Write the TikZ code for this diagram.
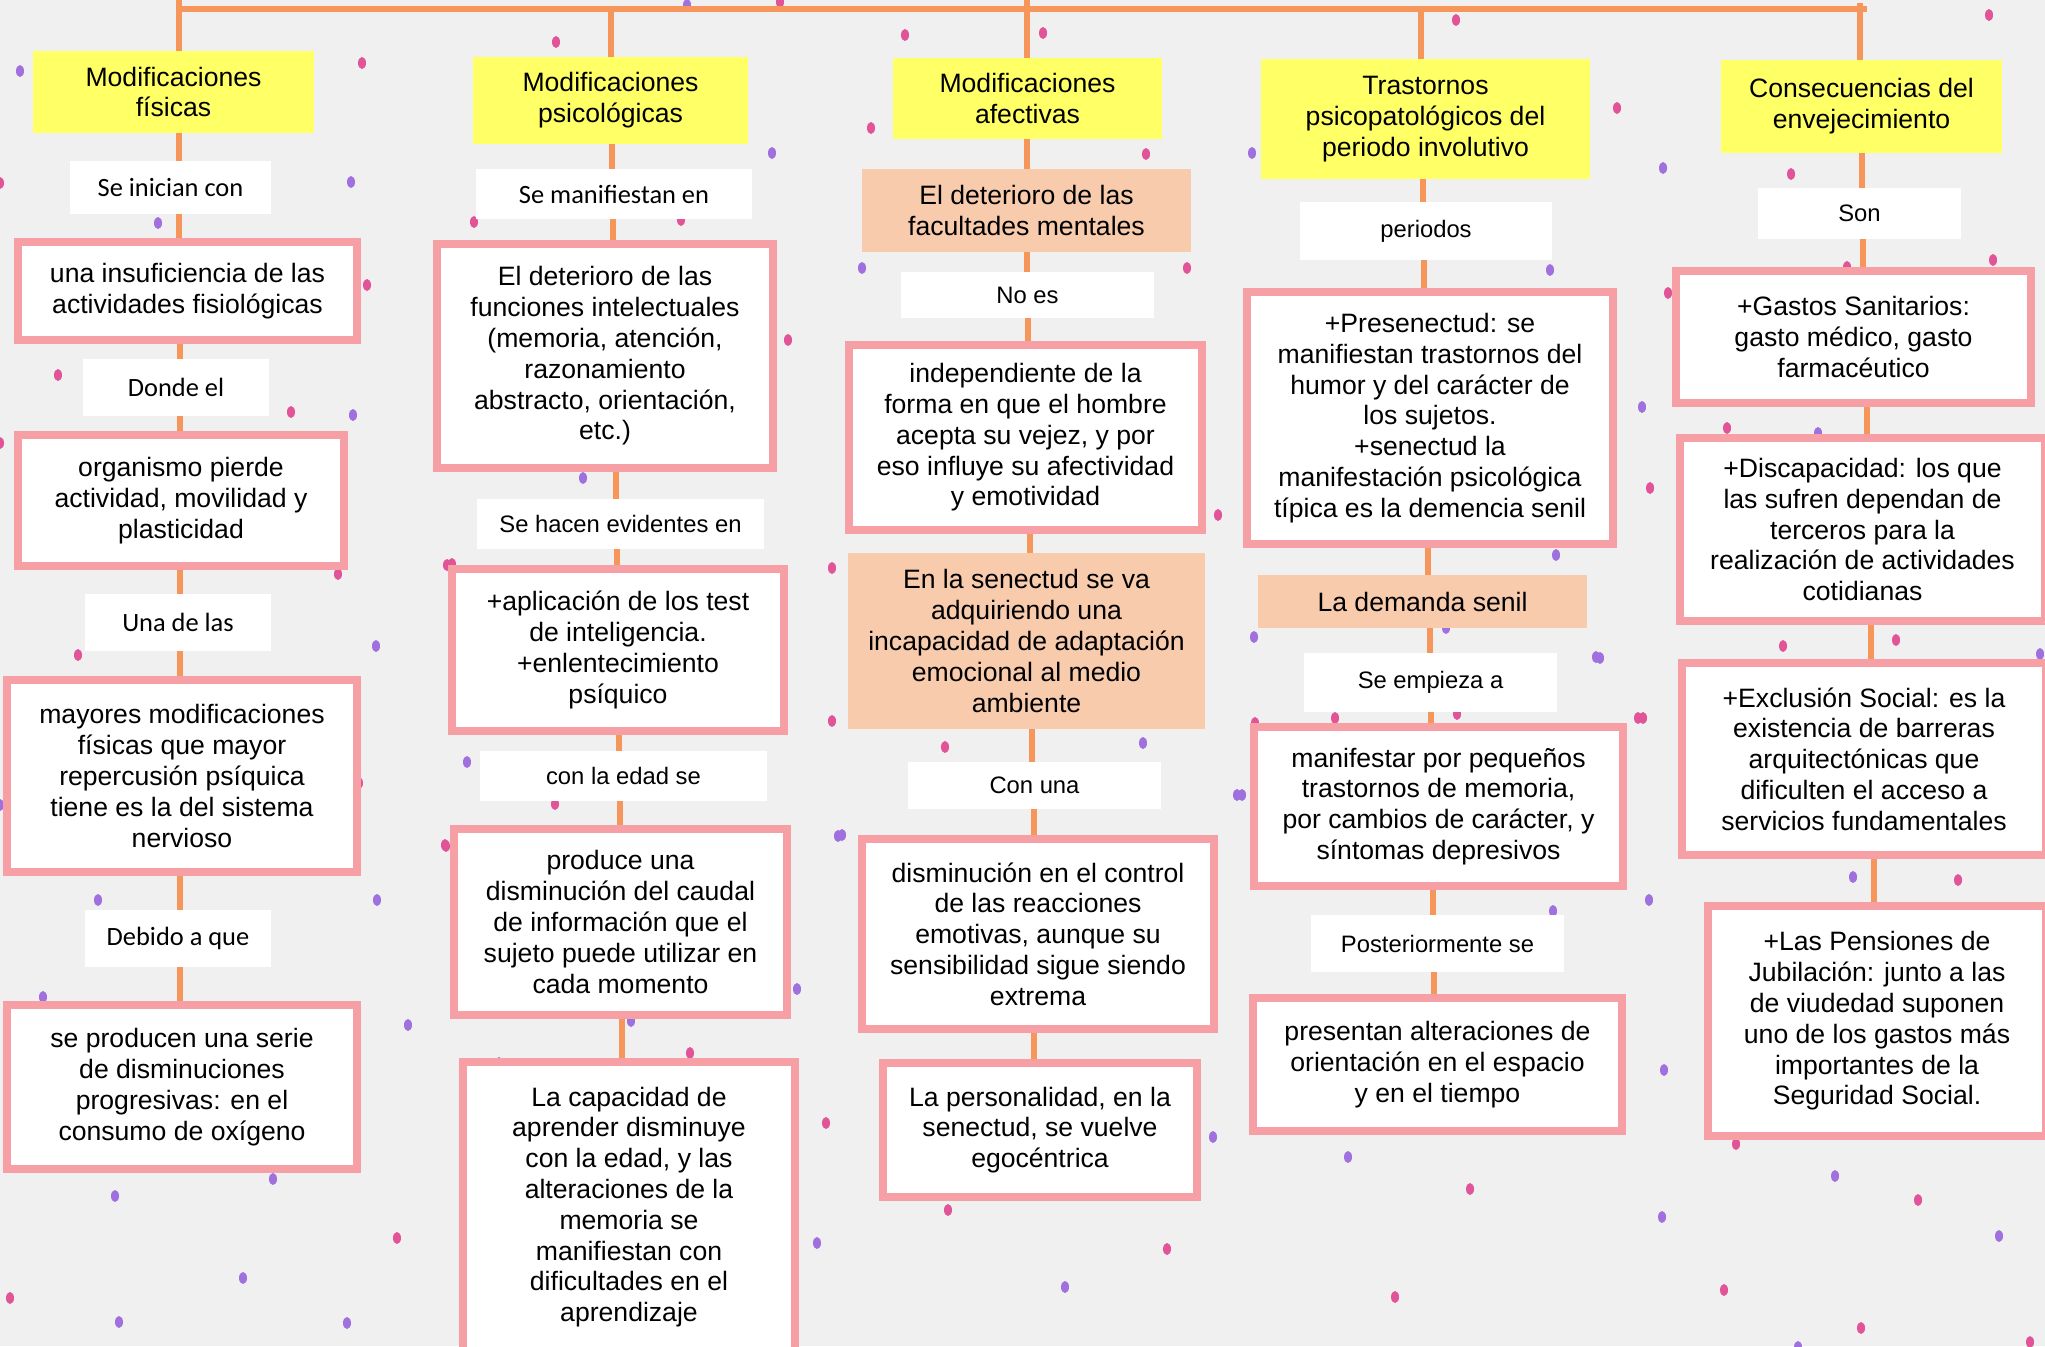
\documentclass[tikz,border=0pt]{standalone}
\usepackage{fontspec}
\setmainfont{Liberation Sans}
\newfontfamily\calfont{Carlito}
\usetikzlibrary{backgrounds}
\definecolor{bgc}{RGB}{240,240,240}
\definecolor{orng}{RGB}{247,150,90}
\definecolor{pinkb}{RGB}{246,160,166}
\definecolor{yel}{RGB}{255,255,102}
\definecolor{peach}{RGB}{248,203,173}
\definecolor{dpink}{RGB}{226,84,152}
\definecolor{dpurp}{RGB}{160,112,222}
\newcommand\mainsz{\fontsize{13.3}{15.4}\selectfont}
\newcommand\labsz{\fontsize{11.9}{14}\selectfont}
\newcommand\calsz{\calfont\fontsize{13.2}{15}\selectfont}
\newcommand\mkbox[7]{%
  \pgfmathsetmacro\bxc{(#3+#5)/2}%
  \pgfmathsetmacro\byc{(#4+#6)/2}%
  \pgfmathsetmacro\bww{(#5-#3)/2}%
  \pgfmathsetmacro\bhh{(#6-#4)/2}%
  \node[#1, minimum width=\bww pt, minimum height=\bhh pt] (#2) at (\bxc,\byc) {#7};}
\newcommand\pbx[6]{\mkbox{pbox}{#1}{#2+4}{#3+4}{#4-4}{#5-4}{#6}}
\newcommand\lnk[3]{\coordinate (lk) at (#3,0); \draw[conn] (#1.south -| lk) -- (#2.north -| lk);}
\newcommand\stub[3]{\coordinate (lk) at (#2,#3); \draw[conn] (lk) -- (#1.north -| lk);}
\tikzset{
  pbox/.style={draw=pinkb, line width=4pt, fill=white, align=center, inner sep=0pt, font=\mainsz},
  ybox/.style={fill=yel, align=center, inner sep=0pt, font=\mainsz},
  obox/.style={fill=peach, align=center, inner sep=0pt, font=\mainsz},
  lbox/.style={fill=white, align=center, inner sep=0pt, font=\labsz},
  cbox/.style={fill=white, align=center, inner sep=0pt, font=\calsz},
  conn/.style={draw=orng, line width=2.75pt},
  topbar/.style={draw=orng, line width=3pt},
  pdot/.style={fill=dpink},
  udot/.style={fill=dpurp}
}
\begin{document}
\begin{tikzpicture}[x=0.5pt,y=-0.5pt]
\useasboundingbox (0,0) rectangle (2045,1346);
% column 1
\mkbox{ybox}{t1}{33}{51}{314}{133}{Modificaciones\\físicas}
\mkbox{cbox}{l1}{70}{161}{271}{214}{Se inician con}
\pbx{b1}{18}{242}{357}{340}{una insuficiencia de las\\actividades fisiológicas}
\mkbox{cbox}{l2}{83}{359}{269}{416}{Donde el}
\pbx{b2}{18}{435}{344}{566}{organismo pierde\\actividad, movilidad y\\plasticidad}
\mkbox{cbox}{l3}{85}{594}{271}{651}{Una de las}
\pbx{b3}{7}{680}{357}{872}{mayores modificaciones\\físicas que mayor\\repercusión psíquica\\tiene es la del sistema\\nervioso}
\mkbox{cbox}{l4}{85}{910}{271}{967}{Debido a que}
\pbx{b4}{7}{1005}{357}{1169}{se producen una serie\\de disminuciones\\progresivas: en el\\consumo de oxígeno}
% column 2
\mkbox{ybox}{t2}{473}{57}{748}{144}{Modificaciones\\psicológicas}
\mkbox{cbox}{l5}{476}{169}{752}{219}{Se manifiestan en}
\pbx{b5}{437}{244}{773}{468}{El deterioro de las\\funciones intelectuales\\(memoria, atención,\\razonamiento\\abstracto, orientación,\\etc.)}
\mkbox{lbox}{l6}{477}{499}{764}{549}{Se hacen evidentes en}
\pbx{b6}{452}{569}{784}{731}{+aplicación de los test\\de inteligencia.\\+enlentecimiento\\psíquico}
\mkbox{lbox}{l7}{480}{751}{767}{801}{con la edad se}
\pbx{b7}{454}{829}{787}{1015}{produce una\\disminución del caudal\\de información que el\\sujeto puede utilizar en\\cada momento}
\pbx{b8}{463}{1062}{795}{1352}{La capacidad de\\aprender disminuye\\con la edad, y las\\alteraciones de la\\memoria se\\manifiestan con\\dificultades en el\\aprendizaje}
% column 3
\mkbox{ybox}{t3}{893}{58}{1162}{139}{Modificaciones\\afectivas}
\mkbox{obox}{o1}{862}{169}{1191}{252}{El deterioro de las\\facultades mentales}
\mkbox{lbox}{l8}{901}{272}{1154}{318}{No es}
\pbx{b9}{849}{345}{1202}{530}{independiente de la\\forma en que el hombre\\acepta su vejez, y por\\eso influye su afectividad\\y emotividad}
\mkbox{obox}{o2}{848}{553}{1205}{729}{En la senectud se va\\adquiriendo una\\incapacidad de adaptación\\emocional al medio\\ambiente}
\mkbox{lbox}{l9}{908}{762}{1161}{809}{Con una}
\pbx{b10}{862}{839}{1214}{1029}{disminución en el control\\de las reacciones\\emotivas, aunque su\\sensibilidad sigue siendo\\extrema}
\pbx{b11}{883}{1063}{1197}{1197}{La personalidad, en la\\senectud, se vuelve\\egocéntrica}
% column 4
\mkbox{ybox}{t4}{1261}{59}{1590}{179}{Trastornos\\psicopatológicos del\\periodo involutivo}
\mkbox{lbox}{l10}{1300}{202}{1552}{260}{periodos}
\pbx{b12}{1247}{292}{1613}{544}{+Presenectud: se\\manifiestan trastornos del\\humor y del carácter de\\los sujetos.\\+senectud la\\manifestación psicológica\\típica es la demencia senil}
\mkbox{obox}{o3}{1258}{575}{1587}{628}{La demanda senil}
\mkbox{lbox}{l11}{1304}{653}{1557}{712}{Se empieza a}
\pbx{b13}{1254}{727}{1623}{886}{manifestar por pequeños\\trastornos de memoria,\\por cambios de carácter, y\\síntomas depresivos}
\mkbox{lbox}{l12}{1311}{915}{1564}{972}{Posteriormente se}
\pbx{b14}{1253}{998}{1622}{1131}{presentan alteraciones de\\orientación en el espacio\\y en el tiempo}
% column 5
\mkbox{ybox}{t5}{1721}{60}{2002}{153}{Consecuencias del\\envejecimiento}
\mkbox{lbox}{l13}{1758}{188}{1961}{239}{Son}
\pbx{b15}{1676}{271}{2031}{403}{+Gastos Sanitarios:\\gasto médico, gasto\\farmacéutico}
\pbx{b16}{1680}{438}{2045}{621}{+Discapacidad: los que\\las sufren dependan de\\terceros para la\\realización de actividades\\cotidianas}
\pbx{b17}{1682}{663}{2046}{855}{+Exclusión Social: es la\\existencia de barreras\\arquitectónicas que\\dificulten el acceso a\\servicios fundamentales}
\pbx{b18}{1708}{906}{2046}{1136}{+Las Pensiones de\\Jubilación: junto a las\\de viudedad suponen\\uno de los gastos más\\importantes de la\\Seguridad Social.}
\begin{pgfonlayer}{background}
\fill[bgc] (0,0) rectangle (2045,1346);
\foreach \px/\py in {362/63,556/42,0/183,474/222,681/220,367/285,58/375,291/412,0/443,338/574,447/565,78/655,359/783,445/845,397/1238,10/1298,452/564,832/568,832/721,555/804,446/846,690/1053,826/1123,1146/154,1187/268,1218/515,945/747,1335/718,1457/714,1255/723,1638/718,1989/15,1617/108,1791/174,1847/267,1993/260,1668/293,1727/428,1650/488,1783/646,1896/640,1643/718,1958/880,1736/1144,1918/1200,1724/1290,1861/1328,2030/1342,905/35,1043/33,780/2,871/128,1456/20,788/340,948/1210,1167/1249,1470/1189,1395/1297}
  \fill[pdot] (\px,\py) ellipse [x radius=2pt, y radius=3pt];
\foreach \px/\py in {20/71,351/182,158/223,353/415,376/646,0/805,98/900,377/900,43/997,408/1025,273/1179,115/1196,243/1278,119/1322,347/1323,440/464,583/478,467/762,838/836,797/989,631/1021,499/1063,817/1243,862/268,1143/743,1237/795,842/835,1556/555,1446/628,1254/637,1596/657,1242/795,1553/911,1663/168,1818/433,1642/407,2040/654,1600/658,1853/877,1649/900,1664/1070,1835/1176,1662/1217,1999/1236,1798/1347,687/5,772/153,1252/153,1550/270,1065/1287,1213/1137,1348/1157}
  \fill[udot] (\px,\py) ellipse [x radius=2pt, y radius=3pt];
% top bar and stubs
\coordinate (barL) at (176,8.5);
\coordinate (barR) at (1867,8.5);
\draw[topbar] (barL) -- (barR);
\stub{t1}{179}{0}
\stub{t2}{611}{8}
\stub{t3}{1027}{0}
\stub{t4}{1421}{8}
\stub{t5}{1860}{3}
% column 1 links
\lnk{t1}{l1}{179}
\lnk{l1}{b1}{179}
\lnk{b1}{l2}{180}
\lnk{l2}{b2}{180}
\lnk{b2}{l3}{180}
\lnk{l3}{b3}{180}
\lnk{b3}{l4}{180}
\lnk{l4}{b4}{180}
% column 2 links
\lnk{t2}{l5}{612}
\lnk{l5}{b5}{613}
\lnk{b5}{l6}{616}
\lnk{l6}{b6}{617}
\lnk{b6}{l7}{619}
\lnk{l7}{b7}{620}
\lnk{b7}{b8}{622}
% column 3 links
\lnk{t3}{o1}{1027}
\lnk{o1}{l8}{1027}
\lnk{l8}{b9}{1028}
\lnk{b9}{o2}{1030}
\lnk{o2}{l9}{1032}
\lnk{l9}{b10}{1034}
\lnk{b10}{b11}{1034}
% column 4 links
\lnk{t4}{l10}{1423}
\lnk{l10}{b12}{1424}
\lnk{b12}{o3}{1428}
\lnk{o3}{l11}{1430}
\lnk{l11}{b13}{1431}
\lnk{b13}{l12}{1433}
\lnk{l12}{b14}{1434}
% column 5 links
\lnk{t5}{l13}{1862}
\lnk{l13}{b15}{1863}
\lnk{b15}{b16}{1867}
\lnk{b16}{b17}{1871}
\lnk{b17}{b18}{1874}
\end{pgfonlayer}
\end{tikzpicture}
\end{document}
